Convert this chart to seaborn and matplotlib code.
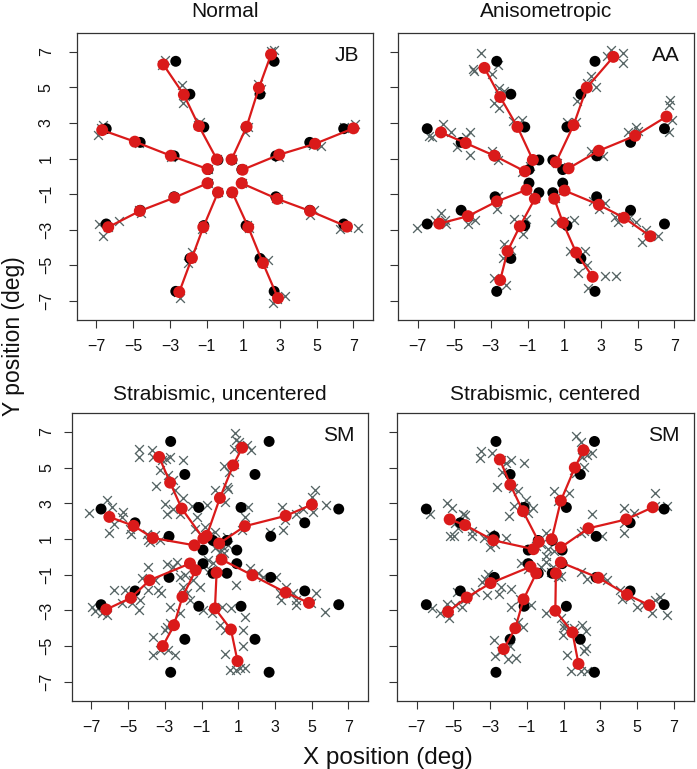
import matplotlib
matplotlib.use("Agg")
import matplotlib.pyplot as plt
import pandas as pd
import seaborn as sns

# ---------------- data ----------------
spoke_names = ["ENE", "NNE", "NNW", "WNW", "WSW", "SSW", "SSE", "ESE"]
eccentricities = [1, 3, 5, 7]
tick_values = [-7, -5, -3, -1, 1, 3, 5, 7]

# target positions (black dots), spoke by spoke, inner -> outer
target_x = [0.92, 2.77, 4.62, 6.47,  0.38, 1.15, 1.91, 2.68,
            -0.38, -1.15, -1.91, -2.68,  -0.92, -2.77, -4.62, -6.47,
            -0.92, -2.77, -4.62, -6.47,  -0.38, -1.15, -1.91, -2.68,
            0.38, 1.15, 1.91, 2.68,  0.92, 2.77, 4.62, 6.47]
target_y = [0.38, 1.15, 1.91, 2.68,  0.92, 2.77, 4.62, 6.47,
            0.92, 2.77, 4.62, 6.47,  0.38, 1.15, 1.91, 2.68,
            -0.38, -1.15, -1.91, -2.68,  -0.92, -2.77, -4.62, -6.47,
            -0.92, -2.77, -4.62, -6.47,  -0.38, -1.15, -1.91, -2.68]

# mean responses (red dots)
normal_mean_x = [0.96, 2.96, 4.91, 7.00,  0.36, 1.18, 1.85, 2.51,
                 -0.44, -1.42, -2.24, -3.36,  -0.95, -2.95, -4.91, -6.69,
                 -0.95, -2.76, -4.64, -6.36,  -0.38, -1.18, -1.80, -2.49,
                 0.40, 1.27, 2.07, 2.89,  0.91, 2.85, 4.64, 6.65]
normal_mean_y = [0.37, 1.22, 1.83, 2.70,  0.95, 2.79, 4.98, 6.85,
                 0.95, 2.83, 4.59, 6.29,  0.41, 1.16, 1.95, 2.60,
                 -0.39, -1.20, -1.95, -2.86,  -0.90, -2.86, -4.59, -6.51,
                 -0.90, -2.86, -4.88, -6.85,  -0.39, -1.27, -1.95, -2.83]

aniso_mean_x = [1.24, 2.89, 4.87, 6.58,  0.55, 1.51, 2.23, 3.68,
                -0.71, -1.55, -2.49, -3.35,  -1.14, -2.81, -4.37, -5.72,
                -1.06, -2.67, -4.25, -5.81,  -0.60, -1.42, -2.09, -2.49,
                0.46, 0.93, 1.65, 2.55,  1.02, 2.89, 4.26, 5.70]
aniso_mean_y = [0.45, 1.44, 2.28, 3.36,  0.79, 2.88, 4.99, 6.72,
                0.92, 2.78, 4.46, 6.10,  0.28, 1.16, 1.87, 2.47,
                -0.76, -1.41, -2.24, -2.66,  -1.26, -2.81, -4.21, -5.84,
                -1.26, -2.61, -4.29, -5.65,  -0.80, -1.60, -2.33, -3.37]

strab_unc_mean_x = [-0.04, 1.36, 3.58, 5.01,  -0.72, 0.00, 0.72, 1.21,
                    -0.90, -2.08, -2.71, -3.31,  -1.39, -3.65, -4.70, -6.02,
                    -1.63, -3.83, -4.85, -6.19,  -1.32, -2.04, -2.50, -3.11,
                    -0.18, -0.27, 0.60, 0.96,  0.09, 1.77, 3.58, 4.85]
strab_unc_mean_y = [0.75, 1.72, 2.30, 2.93,  1.18, 3.30, 5.13, 6.12,
                    1.03, 2.71, 4.16, 5.60,  0.65, 1.06, 1.74, 2.24,
                    -0.37, -1.31, -2.30, -2.95,  -0.75, -2.24, -3.83, -5.00,
                    -0.88, -2.89, -4.07, -5.84,  -0.15, -1.03, -2.00, -2.58]

strab_cen_mean_x = [0.85, 2.35, 4.41, 5.85,  0.35, 0.85, 1.61, 2.08,
                    -0.35, -1.21, -1.90, -2.47,  -0.64, -2.83, -4.36, -5.20,
                    -0.80, -2.97, -4.27, -5.29,  -0.49, -1.18, -1.63, -2.26,
                    0.58, 0.55, 1.48, 1.81,  0.85, 2.89, 4.45, 5.67]
strab_cen_mean_y = [0.53, 1.60, 2.10, 2.78,  0.99, 3.15, 5.00, 5.98,
                    0.84, 2.56, 4.04, 5.46,  0.43, 0.93, 1.78, 2.10,
                    -0.55, -1.47, -2.28, -3.08,  -0.92, -2.38, -4.00, -5.17,
                    -0.92, -3.02, -4.23, -6.00,  -0.31, -1.17, -2.12, -2.71]

# individual responses (grey crosses)
normal_crosses = [
    (-6.91, 2.32), (-6.64, 2.88), (-6.75, 2.70), (-3.27, 6.53), (-3.45, 6.25),
    (-2.36, 5.13), (-2.27, 4.10), (-2.15, 4.50), (-1.36, 3.07), (-1.45, 2.90),
    (1.82, 5.22), (1.95, 4.90), (2.51, 7.04), (2.69, 7.13), (1.09, 2.51),
    (1.25, 2.80), (7.09, 2.94), (6.51, 2.75), (6.90, 2.70), (5.24, 1.70),
    (4.80, 1.75), (2.85, 1.20), (2.95, 1.10), (7.27, -2.92), (6.27, -2.96),
    (6.65, -2.85), (4.64, -2.17), (4.85, -1.90), (2.80, -1.20), (2.90, -1.30),
    (-5.78, -2.49), (-6.64, -3.35), (-6.85, -2.68), (-6.35, -2.85), (-4.60, -2.05),
    (-4.70, -1.90), (-2.80, -1.15), (-2.95, 1.10), (-4.85, 1.95), (-4.70, 1.90),
    (-1.78, -4.23), (-2.00, -4.88), (-1.85, -4.60), (-1.20, -2.80), (-1.25, -2.95),
    (-2.45, -6.85), (-2.55, -6.50), (2.64, -7.13), (3.27, -6.72), (2.85, -6.90),
    (2.36, -4.70), (2.05, -4.85), (1.20, -2.75), (1.30, -2.90), (-0.40, -0.90),
    (0.40, -0.90), (0.95, 0.40), (-0.95, 0.40), (-0.95, -0.40), (0.95, -0.40),
    (0.40, 0.95), (-0.42, 0.95)]

aniso_crosses = [
    (-3.56, 6.94), (-3.93, 5.92), (-3.98, 6.01), (-2.95, 5.73), (-2.63, 6.29),
    (-2.54, 4.99), (-2.27, 4.80), (-2.81, 4.15), (-2.58, 3.87), (-1.77, 3.12),
    (-1.28, 3.18), (-1.50, 2.75), (-0.88, 0.60), (-1.28, 0.23), (-2.94, 1.44),
    (-2.63, 0.94), (-5.60, 2.97), (-6.37, 2.28), (-6.23, 2.22), (-5.18, 2.52),
    (-4.16, 2.50), (-4.34, 2.19), (-4.82, 1.66), (-4.16, 1.22), (-5.72, -2.07),
    (-6.05, -2.44), (-5.42, -2.70), (-7.04, -2.91), (-5.51, -2.48), (-4.25, -2.70),
    (-3.89, -2.48), (-4.16, -2.29), (-2.67, -1.82), (-2.63, -1.12), (-1.73, -2.38),
    (-1.10, -2.38), (-1.23, -3.22), (-2.31, -3.78), (-1.91, -4.16), (-2.36, -4.62),
    (-2.81, -5.74), (-2.18, -6.12), (0.52, -2.57), (1.00, -2.51), (1.51, -2.46),
    (1.29, -4.21), (2.14, -4.21), (1.78, -5.46), (2.23, -5.00), (2.32, -6.27),
    (3.22, -5.61), (3.85, -5.61), (2.59, -1.41), (3.22, -1.51), (2.89, -1.82),
    (3.76, -2.29), (3.94, -2.57), (4.53, -2.35), (4.92, -2.57), (5.46, -3.00),
    (5.25, -3.69), (6.09, -3.37), (2.44, 1.44), (3.13, 1.16), (4.92, 2.78),
    (5.01, 2.56), (4.47, 2.47), (6.76, 4.28), (6.69, 4.01), (6.87, 3.16),
    (6.72, 2.47), (1.15, 3.03), (1.65, 3.03), (1.69, 4.24), (2.26, 5.26),
    (2.44, 5.64), (2.71, 5.02), (3.34, 6.79), (3.58, 7.13), (4.21, 6.91),
    (4.21, 6.35), (0.60, 0.75), (1.20, 0.50), (-0.60, -1.20), (0.50, -1.20),
    (1.00, -0.75), (-1.05, -0.70)]

strab_unc_crosses = [
    (-7.14, 2.48), (-6.15, 3.21), (-5.88, 2.80), (-5.75, 1.87), (-6.02, 1.36),
    (-5.25, 2.52), (-5.34, 2.24), (-4.88, 1.55), (-4.85, 1.31), (-3.98, 1.31),
    (-3.80, 0.84), (-3.53, 1.21), (-3.26, 0.97), (-3.94, 0.93), (-2.89, 2.43),
    (-2.98, 2.99), (-2.53, 2.71), (-2.17, 2.43), (-4.43, 6.07), (-4.38, 5.60),
    (-3.71, 6.01), (-3.62, 5.60), (-3.17, 5.41), (-2.93, 5.51), (-2.71, 5.60),
    (-2.03, 5.41), (-3.47, 3.96), (-3.26, 4.85), (-2.80, 4.57), (-2.57, 4.29),
    (-2.44, 3.77), (-2.03, 3.32), (-1.54, 2.86), (-1.27, 2.24), (-1.36, 1.59),
    (-0.72, 2.89), (-0.27, 3.73), (0.27, 3.08), (0.45, 3.83), (0.51, 4.76),
    (0.78, 5.19), (0.78, 6.07), (1.03, 6.44), (1.45, 6.25), (1.72, 5.97),
    (0.23, 5.08), (0.41, 3.92), (0.81, 6.94), (0.85, 6.53), (1.36, 2.24),
    (1.54, 2.80), (1.18, 1.50), (2.71, 1.40), (3.44, 1.49), (3.39, 2.80),
    (3.53, 2.05), (4.52, 2.67), (5.06, 2.52), (5.16, 3.73), (5.79, 2.89),
    (5.03, 3.36), (4.16, 2.43), (-0.81, 1.68), (-0.54, 1.21), (-0.27, 1.40),
    (0.18, 0.56), (-0.27, 0.47), (0.36, 1.12), (0.00, 0.28), (-0.63, -0.19),
    (-0.90, -0.56), (-0.54, -0.75), (-0.36, -0.37), (0.23, 0.19), (0.45, 0.65),
    (-6.96, -2.80), (-6.78, -3.02), (-6.42, -3.17), (-6.15, -3.27), (-5.79, -1.87),
    (-5.34, -2.56), (-5.16, -1.87), (-4.79, -2.56), (-4.34, -2.39), (-4.39, -2.95),
    (-4.25, -1.21), (-3.94, -0.56), (-3.53, -1.31), (-3.35, -1.87), (-3.22, -2.05),
    (-3.89, -1.87), (-2.89, -0.41), (-2.53, -0.56), (-2.35, -0.28), (-2.17, -1.12),
    (-1.90, -1.03), (-1.99, -1.68), (-1.81, -2.05), (-1.63, -2.43), (-2.71, -2.80),
    (-2.17, -3.17), (-2.71, -3.73), (-2.89, -3.92), (-3.62, -4.48), (-3.62, -5.51),
    (-2.80, -5.23), (-2.44, -5.51), (-3.26, -5.23), (-2.98, -4.11), (-1.45, -1.31),
    (-1.09, -1.68), (-0.90, -2.99), (-0.45, -3.17), (0.09, -2.80), (0.90, -1.59),
    (0.63, -2.84), (0.00, -3.83), (0.27, -4.11), (1.36, -3.36), (1.27, -4.11),
    (0.27, -5.42), (0.54, -6.35), (1.09, -6.25), (1.36, -6.25), (0.90, -6.35),
    (1.27, -5.00), (1.63, -0.65), (2.08, -0.93), (2.35, -1.12), (3.07, -1.12),
    (3.62, -1.68), (3.98, -2.05), (4.16, -2.43), (3.35, -2.43), (3.26, -2.05),
    (4.97, -2.61), (5.24, -2.05), (5.70, -3.08), (4.16, -2.71)]

strab_cen_crosses = [
    (-3.50, 5.95), (-3.55, 5.52), (-2.92, 5.80), (-2.38, 5.43), (-1.84, 5.43),
    (-1.16, 5.24), (-2.33, 4.73), (-2.11, 5.24), (-2.65, 3.89), (-1.75, 3.86),
    (-1.48, 3.67), (-1.03, 3.21), (-1.70, 2.84), (-1.12, 2.84), (-0.94, 2.47),
    (-0.67, 2.75), (-1.99, 2.28), (-6.25, 2.38), (-5.35, 3.02), (-5.08, 2.75),
    (-4.45, 2.43), (-4.36, 2.32), (-4.90, 1.91), (-4.72, 1.64), (-4.99, 1.17),
    (-4.00, 1.45), (-4.00, 1.17), (-5.17, 1.17), (-3.01, 1.26), (-2.74, 0.71),
    (-2.11, 1.08), (-3.01, 0.58), (-3.32, 1.08), (-6.16, -2.89), (-5.71, -3.17),
    (-5.26, -3.45), (-5.35, -2.62), (-4.90, -2.71), (-4.54, -2.80), (-4.36, -2.34),
    (-4.81, -1.97), (-3.82, -1.97), (-3.46, -1.42), (-3.19, -2.15), (-2.52, -2.06),
    (-3.10, -0.95), (-2.38, -1.69), (-3.28, -1.23), (-1.84, -1.78), (-1.39, -2.34),
    (-0.76, -2.71), (-1.88, -2.80), (-1.48, -3.63), (-1.21, -3.91), (-1.57, -5.67),
    (-2.78, -4.65), (-2.74, -5.58), (-2.38, -5.30), (-1.93, -5.02), (-2.02, -5.72),
    (-1.30, -0.34), (-0.94, -0.68), (-0.22, -0.58), (0.05, 0.07), (0.41, -0.58),
    (0.67, -1.14), (0.85, -1.05), (0.14, 0.44), (0.49, 0.34), (-0.22, 0.71),
    (0.05, 1.36), (-0.49, 0.62), (0.31, -0.86), (0.05, -0.30), (0.05, -3.17),
    (0.85, -3.45), (1.03, -4.00), (0.94, -4.37), (1.57, -4.00), (2.02, -3.82),
    (2.20, -4.15), (2.20, -5.11), (1.21, -5.48), (1.39, -6.41), (1.93, -6.41),
    (2.29, -6.41), (2.11, -5.30), (1.03, -3.82), (1.93, -0.86), (2.29, -1.23),
    (3.10, -1.14), (3.37, -1.32), (4.09, -1.88), (4.18, -2.34), (4.63, -2.25),
    (4.99, -2.80), (5.35, -2.71), (5.98, -2.43), (6.25, -2.25), (6.61, -3.26),
    (5.80, -3.12), (0.49, 3.67), (0.67, 3.12), (1.30, 3.58), (1.57, 4.86),
    (2.11, 5.05), (1.66, 4.68), (2.29, 5.71), (2.56, 5.80), (2.02, 5.61),
    (1.66, 6.76), (1.93, 6.45), (2.56, 2.38), (2.11, 1.45), (3.10, 1.17),
    (4.27, 2.75), (4.27, 1.36), (4.81, 2.47), (5.98, 3.58), (5.98, 2.84),
    (6.61, 2.84), (4.27, 1.91), (1.93, 1.36)]

panel_titles = ["Normal", "Anisometropic", "Strabismic, uncentered", "Strabismic, centered"]
panel_subjects = ["JB", "AA", "SM", "SM"]

# ---------------- style ----------------
sns.set_theme(style="ticks")
plt.rcParams["font.family"] = ["Liberation Sans", "DejaVu Sans"]
plt.rcParams["axes.edgecolor"] = "#333333"
plt.rcParams["axes.linewidth"] = 0.9

RED = "#DA1A1A"
GREY = "#566464"

fig = plt.figure(figsize=(6.97, 7.69), dpi=100)

positions = [
    [0.1100, 0.5839, 0.4255, 0.3736],
    [0.5706, 0.5839, 0.4251, 0.3736],
    [0.1026, 0.0884, 0.4258, 0.3749],
    [0.5692, 0.0884, 0.4261, 0.3749],
]
means = [(normal_mean_x, normal_mean_y), (aniso_mean_x, aniso_mean_y),
         (strab_unc_mean_x, strab_unc_mean_y), (strab_cen_mean_x, strab_cen_mean_y)]
crosses = [normal_crosses, aniso_crosses, strab_unc_crosses, strab_cen_crosses]
ylabel_pads = [10.5, None, 6.5, None]

spoke_col = [s for s in spoke_names for _ in eccentricities]

for i in range(4):
    ax = fig.add_axes(positions[i])
    cdf = pd.DataFrame(crosses[i], columns=["x", "y"])
    mdf = pd.DataFrame({"x": means[i][0], "y": means[i][1], "spoke": spoke_col})
    tdf = pd.DataFrame({"x": target_x, "y": target_y})

    sns.scatterplot(data=cdf, x="x", y="y", marker="x", s=40, color=GREY,
                    linewidth=0.95, ax=ax, legend=False, zorder=2)
    sns.scatterplot(data=tdf, x="x", y="y", s=62, color="black", edgecolor="none",
                    linewidth=0, ax=ax, legend=False, zorder=3)
    sns.lineplot(data=mdf, x="x", y="y", units="spoke", estimator=None, sort=False,
                 color=RED, linewidth=1.6, ax=ax, legend=False, zorder=4)
    sns.scatterplot(data=mdf, x="x", y="y", s=74, color=RED, edgecolor="none",
                    linewidth=0, ax=ax, legend=False, zorder=5)

    ax.set_xlim(-8.08, 8.08)
    ax.set_ylim(-8.08, 8.08)
    ax.set_xticks(tick_values)
    ax.set_yticks(tick_values)
    ax.set_xlabel("")
    ax.set_ylabel("")
    ax.tick_params(axis="both", direction="out", length=6, width=0.8,
                   color="#333333", labelsize=11.5, labelcolor="#111111")
    ax.tick_params(axis="x", pad=8)
    if ylabel_pads[i] is None:
        ax.tick_params(axis="y", labelleft=False)
    else:
        ax.tick_params(axis="y", pad=ylabel_pads[i], labelrotation=90)
        for lbl in ax.get_yticklabels():
            lbl.set_va("center")
    for sp in ax.spines.values():
        sp.set_visible(True)
        sp.set_color("#333333")

    ax.text(1 - 14 / 296, 1 - 23 / 288, panel_subjects[i], transform=ax.transAxes,
            ha="right", va="center", fontsize=15, color="#111111")

# titles
title_pos = [(225 / 697, 1 - 17 / 769), (546 / 697, 1 - 17 / 769),
             (220 / 697, 1 - 399.5 / 769), (545 / 697, 1 - 399.5 / 769)]
for (tx, ty), t in zip(title_pos, panel_titles):
    fig.text(tx, ty, t, ha="center", va="baseline", fontsize=15, color="#111111")

fig.text(388 / 697, 1 - 764 / 769, "X position (deg)", ha="center", va="baseline",
         fontsize=17.5, color="#111111")
fig.text(14 / 697, 1 - 336 / 769, "Y position (deg)", ha="center", va="center",
         rotation=90, fontsize=16.5, color="#111111")

fig.savefig("out.png", dpi=100)
